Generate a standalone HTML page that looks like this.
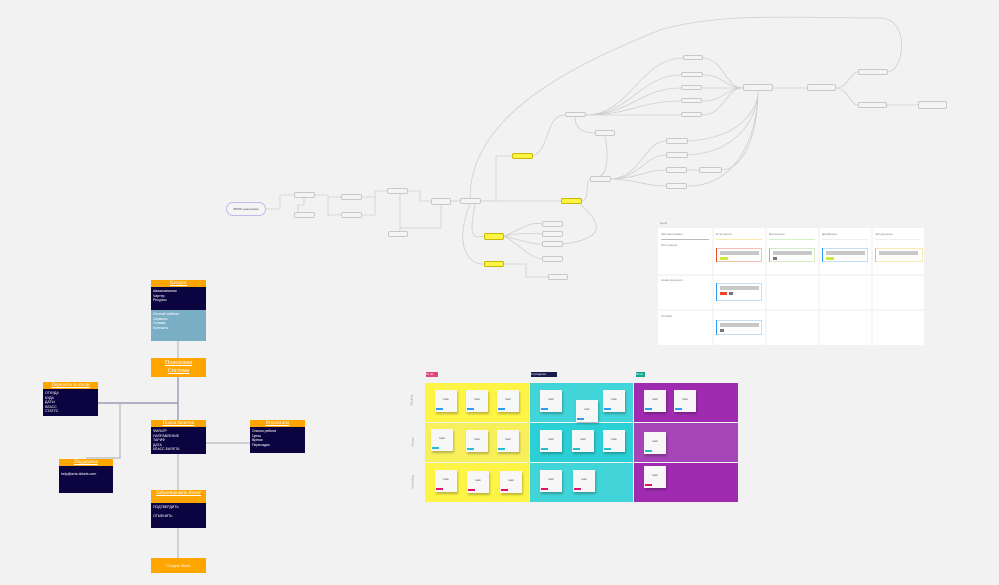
<!DOCTYPE html>
<html><head><meta charset="utf-8"><style>
body{margin:0;width:999px;height:585px;background:#f2f2f2;position:relative;overflow:hidden;font-family:"Liberation Sans","Noto Sans CJK SC",sans-serif}
.a{position:absolute;box-sizing:border-box}
.hd{background:#ffa500;color:#fff;font:5px "Liberation Serif",serif;text-align:center;line-height:7px;text-decoration:underline}
.dk{background:#0c0440;color:#fff;font-size:3.5px;line-height:4.5px;padding:2px}
.st{background:#f7f7f7;box-shadow:1px 2px 2px rgba(0,0,0,.25);font-size:3px;color:#555;text-align:center;padding-top:7px}
.tg{position:absolute;left:1px;bottom:2px;width:7px;height:2px}
.n{position:absolute;box-sizing:border-box;background:#f4f4f4;border:1px solid #c8c8c8;border-radius:2px;font-size:2.5px;color:#444;text-align:center;line-height:4px}
.y{background:#fef445;border-color:#c8b800}
</style></head><body>

<svg class="a" style="left:0;top:0" width="999" height="585">
<g fill="none" stroke="#cfcfcf" stroke-width="0.8">
<path d="M266 209 H280 V195 H294"/>
<path d="M304 198 V205 H298 V215 H294"/>
<path d="M315 195 H328 V197 H341 M328 197 V215 H341"/>
<path d="M362 197 H375 V191 H387 M362 215 H375 V191"/>
<path d="M400 194 V234 M408 191 H420 V201 H431"/>
<path d="M441 205 V228 H400"/>
<path d="M451 201 H460"/>
<path d="M481 201 H496 V156 H512"/>
<path d="M481 201 H561"/>
<path d="M475 204 C470 230 470 240 484 236"/>
<path d="M470 204 C455 240 465 265 484 264"/>
<path d="M504 264 H526 V277 H548"/>
<path d="M504 236 C520 230 530 221 542 224 M504 236 C520 233 530 233 542 234 M504 236 C520 240 530 244 542 244 M504 236 C520 245 530 258 542 259"/>
<path d="M533 156 C550 150 545 115 565 115"/>
<path d="M582 201 C590 200 585 180 590 179"/>
<path d="M572 204 V201"/>
<path d="M470 198 C470 120 560 70 660 30 C720 12 800 18 880 18 C910 18 905 70 888 72"/>
<path d="M586 115 C630 115 640 58 683 58 M586 115 C630 115 640 75 681 75 M586 115 C630 115 640 88 681 88 M586 115 C630 115 640 101 681 101 M586 115 H681"/>
<path d="M575 117 C575 130 585 133 595 133"/>
<path d="M703 58 C725 60 725 88 743 88 M703 75 C725 75 725 88 743 88 M702 88 H743 M702 101 C725 101 725 88 743 88 M702 115 C725 115 725 88 743 88"/>
<path d="M611 179 C640 178 645 141 666 141 M611 179 C640 178 645 155 666 155 M611 179 C640 178 645 170 666 170 M611 179 C640 180 645 186 666 186 M687 170 H699"/>
<path d="M605 136 C610 160 605 175 600 176"/>
<path d="M688 141 C740 138 758 110 758 91 M688 155 C740 152 758 115 758 91 M722 170 C750 168 758 120 758 91 M688 186 C740 186 758 130 758 91"/>
<path d="M773 88 H807 M836 88 C848 88 850 72 858 72 M836 88 C848 88 850 105 858 105 M887 105 H918"/>
<path d="M580 204 C610 230 595 240 563 244"/>
</g>
</svg>

<div class="a" style="left:226px;top:202px;width:40px;height:14px;border:1px solid #c9b6f0;border-radius:8px;background:#f4f4f4;font-size:3px;text-align:center;line-height:12px;color:#555">BPMN-диаграмма</div>
<div class="n" style="left:294px;top:192px;width:21px;height:6px"></div>
<div class="n" style="left:294px;top:212px;width:21px;height:6px"></div>
<div class="n" style="left:341px;top:194px;width:21px;height:6px"></div>
<div class="n" style="left:341px;top:212px;width:21px;height:6px"></div>
<div class="n" style="left:387px;top:188px;width:21px;height:6px"></div>
<div class="n" style="left:431px;top:198px;width:20px;height:7px"></div>
<div class="n" style="left:460px;top:198px;width:21px;height:6px"></div>
<div class="n" style="left:388px;top:231px;width:20px;height:6px"></div>
<div class="n y" style="left:512px;top:153px;width:21px;height:6px"></div>
<div class="n y" style="left:561px;top:198px;width:21px;height:6px"></div>
<div class="n y" style="left:484px;top:233px;width:20px;height:7px"></div>
<div class="n y" style="left:484px;top:261px;width:20px;height:6px"></div>
<div class="n" style="left:542px;top:221px;width:21px;height:6px"></div>
<div class="n" style="left:542px;top:231px;width:21px;height:6px"></div>
<div class="n" style="left:542px;top:241px;width:21px;height:6px"></div>
<div class="n" style="left:542px;top:256px;width:21px;height:6px"></div>
<div class="n" style="left:548px;top:274px;width:20px;height:6px"></div>
<div class="n" style="left:565px;top:112px;width:21px;height:5px"></div>
<div class="n" style="left:595px;top:130px;width:20px;height:6px"></div>
<div class="n" style="left:590px;top:176px;width:21px;height:6px"></div>
<div class="n" style="left:683px;top:55px;width:20px;height:5px"></div>
<div class="n" style="left:681px;top:72px;width:22px;height:5px"></div>
<div class="n" style="left:681px;top:85px;width:21px;height:5px"></div>
<div class="n" style="left:681px;top:98px;width:21px;height:5px"></div>
<div class="n" style="left:681px;top:112px;width:21px;height:5px"></div>
<div class="n" style="left:743px;top:84px;width:30px;height:7px"></div>
<div class="n" style="left:807px;top:84px;width:29px;height:7px"></div>
<div class="n" style="left:858px;top:69px;width:30px;height:6px"></div>
<div class="n" style="left:858px;top:102px;width:29px;height:6px"></div>
<div class="n" style="left:918px;top:101px;width:29px;height:8px"></div>
<div class="n" style="left:666px;top:138px;width:22px;height:6px"></div>
<div class="n" style="left:666px;top:152px;width:22px;height:6px"></div>
<div class="n" style="left:666px;top:167px;width:21px;height:6px"></div>
<div class="n" style="left:699px;top:167px;width:23px;height:6px"></div>
<div class="n" style="left:666px;top:183px;width:21px;height:6px"></div>

<!-- Goals table -->
<div class="a" style="left:660px;top:221px;font-size:3px;color:#888">Цели</div>
<div class="a" style="left:658px;top:228px;width:266px;height:117px;background:#fff"></div>
<svg class="a" style="left:658px;top:228px" width="266" height="117">
<g stroke="#eee" stroke-width="1"><line x1="55" y1="0" x2="55" y2="117"/><line x1="108" y1="0" x2="108" y2="117"/><line x1="161" y1="0" x2="161" y2="117"/><line x1="214" y1="0" x2="214" y2="117"/>
<line x1="0" y1="47" x2="266" y2="47"/><line x1="0" y1="82" x2="266" y2="82"/></g>
<rect x="3" y="11" width="48" height="1" fill="#bbb"/><rect x="58" y="11" width="46" height="1" fill="#fde9a8"/><rect x="111" y="11" width="46" height="1" fill="#d6efc5"/><rect x="164" y="11" width="46" height="1" fill="#eee"/><rect x="217" y="11" width="46" height="1" fill="#eee"/>
<g fill="#fff" stroke-width="0.8"><rect x="58.5" y="20.5" width="45" height="13" stroke="#f5b0a0"/><rect x="111.5" y="20.5" width="45" height="13" stroke="#cde8b8"/><rect x="164.5" y="20.5" width="45" height="13" stroke="#b5d8f3"/><rect x="217.5" y="20.5" width="47" height="13" stroke="#fbe6a0"/>
<rect x="58.5" y="55.5" width="45" height="17" stroke="#b5d8f3"/><rect x="58.5" y="92.5" width="45" height="14" stroke="#b5d8f3"/></g>
<rect x="58" y="20" width="1" height="14" fill="#f04d2a"/><rect x="111" y="20" width="1" height="14" fill="#8fd14f"/><rect x="164" y="20" width="1" height="14" fill="#2d9bf0"/><rect x="217" y="20" width="1" height="14" fill="#fac710"/>
<rect x="58" y="55" width="1" height="18" fill="#2d9bf0"/><rect x="58" y="92" width="1" height="15" fill="#2d9bf0"/>
<g fill="#c8c8c8"><rect x="62" y="23" width="39" height="4"/><rect x="115" y="23" width="39" height="4"/><rect x="168" y="23" width="39" height="4"/><rect x="221" y="23" width="39" height="4"/><rect x="62" y="58" width="39" height="4"/><rect x="62" y="95" width="39" height="4"/></g>
<rect x="62" y="29" width="8" height="3" fill="#cee741"/><rect x="115" y="29" width="4" height="3" fill="#777"/><rect x="168" y="29" width="8" height="3" fill="#cee741"/>
<rect x="62" y="64" width="7" height="3" fill="#f24726"/><rect x="71" y="64" width="4" height="3" fill="#777"/><rect x="62" y="101" width="4" height="3" fill="#777"/>
<g font-size="3" fill="#888" font-family="Liberation Sans"><text x="3" y="7">Запланировано</text><text x="58" y="7">В процессе</text><text x="111" y="7">Выполнено</text><text x="164" y="7">Двуйверен</text><text x="217" y="7">Запущенные</text><text x="3" y="18">Интеграция</text><text x="3" y="53">Новая функция</text><text x="3" y="89">Ошибки</text></g>
</svg>

<!-- Kanban -->
<div class="a" style="left:426px;top:372px;width:12px;height:5px;background:#e0467a;font-size:3px;color:#fff;line-height:5px">To do</div>
<div class="a" style="left:531px;top:372px;width:26px;height:5px;background:#1a1a4d;font-size:3px;color:#fff;line-height:5px">In progress</div>
<div class="a" style="left:636px;top:372px;width:9px;height:5px;background:#12a58f;font-size:3px;color:#fff;line-height:5px">Done</div>
<div class="a" style="left:425px;top:383px;width:104px;height:39px;background:#fef445"></div>
<div class="a" style="left:425px;top:423px;width:104px;height:39px;background:#f8f05a"></div>
<div class="a" style="left:425px;top:463px;width:104px;height:39px;background:#fef445"></div>
<div class="a" style="left:530px;top:383px;width:103px;height:39px;background:#41d4d8"></div>
<div class="a" style="left:530px;top:423px;width:103px;height:39px;background:#2bd0d6"></div>
<div class="a" style="left:530px;top:463px;width:103px;height:39px;background:#41d4d8"></div>
<div class="a" style="left:634px;top:383px;width:104px;height:39px;background:#a12bb0"></div>
<div class="a" style="left:634px;top:423px;width:104px;height:39px;background:#a645b8"></div>
<div class="a" style="left:634px;top:463px;width:104px;height:39px;background:#a12bb0"></div>
<div class="a" style="left:406px;top:398px;transform:rotate(-90deg);font-size:3px;color:#999">Backlog</div>
<div class="a" style="left:408px;top:440px;transform:rotate(-90deg);font-size:3px;color:#999">Design</div>
<div class="a" style="left:406px;top:480px;transform:rotate(-90deg);font-size:3px;color:#999">Marketing</div>

<div class="a st" style="left:435px;top:390px;width:22px;height:22px">task<i class="tg" style="background:#2d9bf0"></i></div>
<div class="a st" style="left:466px;top:390px;width:22px;height:22px">task<i class="tg" style="background:#2d9bf0"></i></div>
<div class="a st" style="left:497px;top:390px;width:22px;height:22px">task<i class="tg" style="background:#2d9bf0"></i></div>
<div class="a st" style="left:540px;top:390px;width:22px;height:22px">task<i class="tg" style="background:#2d9bf0"></i></div>
<div class="a st" style="left:576px;top:400px;width:22px;height:22px">task<i class="tg" style="background:#2d9bf0"></i></div>
<div class="a st" style="left:603px;top:390px;width:22px;height:22px">task<i class="tg" style="background:#2d9bf0"></i></div>
<div class="a st" style="left:644px;top:390px;width:22px;height:22px">task<i class="tg" style="background:#2d9bf0"></i></div>
<div class="a st" style="left:674px;top:390px;width:22px;height:22px">task<i class="tg" style="background:#2d9bf0"></i></div>
<div class="a st" style="left:431px;top:429px;width:22px;height:22px">task<i class="tg" style="background:#23bfcf"></i></div>
<div class="a st" style="left:466px;top:430px;width:22px;height:22px">task<i class="tg" style="background:#23bfcf"></i></div>
<div class="a st" style="left:497px;top:430px;width:22px;height:22px">task<i class="tg" style="background:#23bfcf"></i></div>
<div class="a st" style="left:540px;top:430px;width:22px;height:22px">task<i class="tg" style="background:#23bfcf"></i></div>
<div class="a st" style="left:572px;top:430px;width:22px;height:22px">task<i class="tg" style="background:#23bfcf"></i></div>
<div class="a st" style="left:603px;top:430px;width:22px;height:22px">task<i class="tg" style="background:#23bfcf"></i></div>
<div class="a st" style="left:644px;top:432px;width:22px;height:22px">task<i class="tg" style="background:#23bfcf"></i></div>
<div class="a st" style="left:435px;top:470px;width:22px;height:22px">task<i class="tg" style="background:#e0106a"></i></div>
<div class="a st" style="left:467px;top:471px;width:22px;height:22px">task<i class="tg" style="background:#e0106a"></i></div>
<div class="a st" style="left:500px;top:471px;width:22px;height:22px">task<i class="tg" style="background:#e0106a"></i></div>
<div class="a st" style="left:540px;top:470px;width:22px;height:22px">task<i class="tg" style="background:#e0106a"></i></div>
<div class="a st" style="left:573px;top:470px;width:22px;height:22px">task<i class="tg" style="background:#e0106a"></i></div>
<div class="a st" style="left:644px;top:466px;width:22px;height:22px">task<i class="tg" style="background:#e0106a"></i></div>

<!-- Left flow -->
<svg class="a" style="left:0;top:0" width="320" height="585">
<g fill="none" stroke="#b8b8c4" stroke-width="1.2">
<path d="M178 341 V358"/><path d="M178 377 V420" stroke="#8a8aa8"/><path d="M178 403 H98" stroke="#8a8aa8"/>
<path d="M120 403 V458 H86"/><path d="M206 443 H250"/><path d="M178 453 V490"/><path d="M178 528 V558"/>
</g></svg>
<div class="a" style="left:151px;top:280px;width:55px;height:61px;background:#7aaec4">
<div class="hd">Каталог</div>
<div class="dk" style="height:19px">Авиакомпании<br>Чартер<br>Ресурсы</div>
<div style="font-size:3.5px;color:#fff;line-height:4.5px;padding:2px">Личный кабинет<br>Сервисы<br>Отзывы<br>Контакты</div></div>
<div class="a" style="left:151px;top:358px;width:55px;height:19px;background:#ffa500;color:#fff;font:6px/8px 'Liberation Serif',serif;text-align:center;padding-top:1px;text-decoration:underline">Поисковая<br>Система</div>
<div class="a" style="left:43px;top:382px;width:55px;height:34px;background:#0c0440"><div class="hd">Перелёты и отели</div><div class="dk">ОТКУДА<br>КУДА<br>ДАТЫ<br>КЛАСС<br>СТАТУС</div></div>
<div class="a" style="left:59px;top:459px;width:54px;height:34px;background:#0c0440"><div class="hd">Поддержка</div><div class="dk" style="padding-top:6px">help@avia-tickets.com</div></div>
<div class="a" style="left:151px;top:420px;width:55px;height:33px;background:#0c0440"><div class="hd">Поиск билетов</div><div class="dk">ФИЛЬТР<br>НАПРАВЛЕНИЕ<br>ТАРИФ<br>ДАТА<br>КЛАСС БИЛЕТА</div></div>
<div class="a" style="left:250px;top:420px;width:55px;height:33px;background:#0c0440"><div class="hd">Результаты</div><div class="dk">Список рейсов<br>Цены<br>Время<br>Пересадки</div></div>
<div class="a" style="left:151px;top:490px;width:55px;height:38px;background:#0c0440"><div class="hd" style="height:12px;line-height:5px;padding-top:1px">Забронировать билет</div><div class="dk">ПОДТВЕРДИТЬ<br><br>ОТМЕНИТЬ</div></div>
<div class="a" style="left:151px;top:558px;width:55px;height:15px;background:#ffa500;color:#fff;font:4px/15px 'Liberation Serif',serif;text-align:center">Создать билет</div>
</body></html>
